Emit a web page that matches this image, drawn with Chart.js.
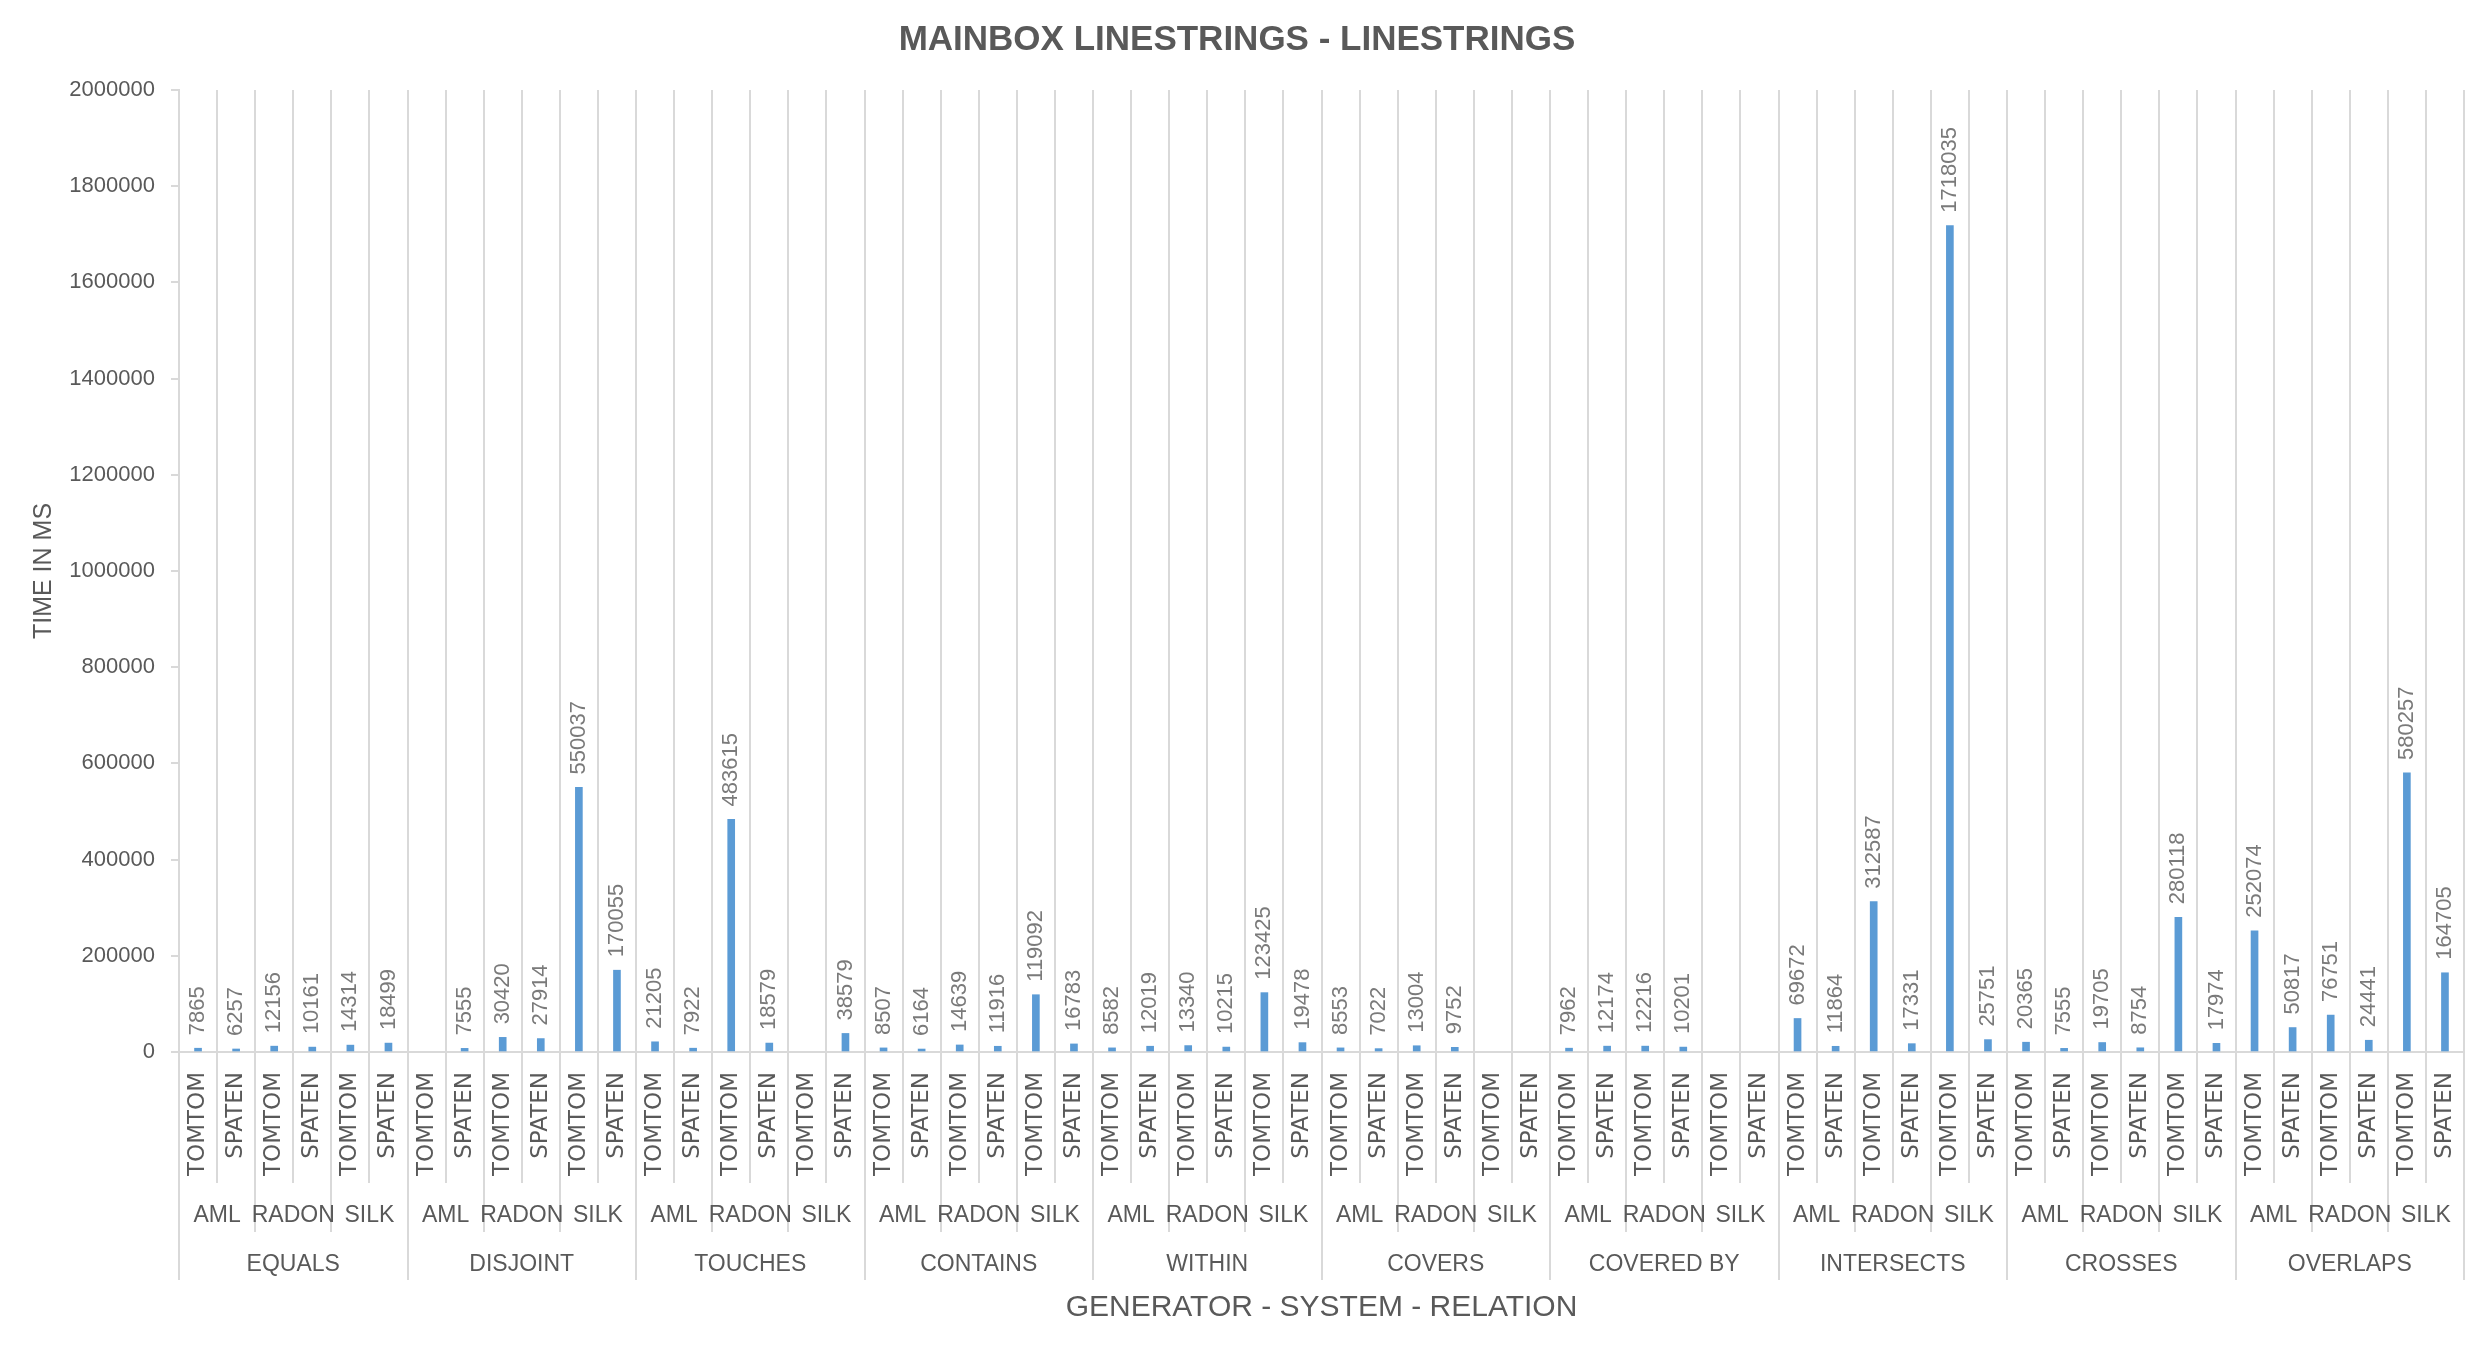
<!DOCTYPE html>
<html>
<head>
<meta charset="utf-8">
<title>Mainbox linestrings</title>
<script src="https://cdn.jsdelivr.net/npm/chart.js@4.4.1/dist/chart.umd.min.js"></script>
<style>
  html, body { margin: 0; padding: 0; background: #fff; }
  #wrap { width: 2488px; height: 1355px; }
</style>
</head>
<body>
<div id="wrap"><canvas id="chart" width="2488" height="1355"></canvas></div>
<script>
// --- data (ms), order per relation: AML tomtom/spaten, RADON tomtom/spaten, SILK tomtom/spaten
const relations = ['EQUALS', 'DISJOINT', 'TOUCHES', 'CONTAINS', 'WITHIN', 'COVERS', 'COVERED BY', 'INTERSECTS', 'CROSSES', 'OVERLAPS'];
const systems = ['AML', 'RADON', 'SILK'];
const generators = ['TOMTOM', 'SPATEN'];

const equals     = [7865, 6257, 12156, 10161, 14314, 18499];
const disjoint   = [null, 7555, 30420, 27914, 550037, 170055];
const touches    = [21205, 7922, 483615, 18579, null, 38579];
const contains   = [8507, 6164, 14639, 11916, 119092, 16783];
const within     = [8582, 12019, 13340, 10215, 123425, 19478];
const covers     = [8553, 7022, 13004, 9752, null, null];
const coveredBy  = [7962, 12174, 12216, 10201, null, null];
const intersects = [69672, 11864, 312587, 17331, 1718035, 25751];
const crosses    = [20365, 7555, 19705, 8754, 280118, 17974];
const overlaps   = [252074, 50817, 76751, 24441, 580257, 164705];

const yTicks = [0, 200000, 400000, 600000, 800000, 1000000, 1200000, 1400000, 1600000, 1800000, 2000000];

// colours
const BAR_COLOR = '#5B9BD5';
const GRID_COLOR = '#D9D9D9';
const TEXT_COLOR = '#595959';
const VALUE_COLOR = '#7A7A7A';
const SANS = '"Liberation Sans", Arial, sans-serif';

// build the three label levels
const times = [equals, disjoint, touches, contains, within, covers, coveredBy, intersects, crosses, overlaps].flat();
const genLabels = [];
const sysLabels = [];
relations.forEach(() => {
    systems.forEach(s => {
        sysLabels.push(s);
        generators.forEach(g => genLabels.push(g));
    });
});

// values written above the bars, rotated
const barValues = {
    id: 'barValues',
    afterDatasetsDraw(chart) {
        const ctx = chart.ctx;
        const meta = chart.getDatasetMeta(0);
        const data = chart.data.datasets[0].data;
        ctx.save();
        ctx.font = '22px ' + SANS;
        ctx.fillStyle = VALUE_COLOR;
        ctx.textAlign = 'left';
        ctx.textBaseline = 'middle';
        meta.data.forEach((bar, i) => {
            if (data[i] == null) return;
            ctx.save();
            ctx.translate(bar.x, bar.y - 13);
            ctx.rotate(-Math.PI / 2);
            ctx.fillText(String(data[i]), 0, 0);
            ctx.restore();
        });
        ctx.restore();
    }
};

new Chart(document.getElementById('chart'), {
    type: 'bar',
    data: {
        labels: genLabels,
        datasets: [{
            data: times,
            backgroundColor: BAR_COLOR,
            barThickness: 7,
            xAxisID: 'x'
        }]
    },
    plugins: [barValues],
    options: {
        responsive: false,
        animation: false,
        devicePixelRatio: 1,
        layout: { padding: { left: 10, right: 24, top: 0, bottom: 0 } },
        plugins: {
            legend: { display: false },
            tooltip: { enabled: false },
            title: {
                display: true,
                text: 'MAINBOX LINESTRINGS - LINESTRINGS',
                color: TEXT_COLOR,
                font: { family: SANS, size: 35, weight: 'bold' },
                padding: { top: 19, bottom: 29 }
            }
        },
        scales: {
            y: {
                min: 0,
                max: 2000000,
                afterBuildTicks: s => { s.ticks = yTicks.map(v => ({ value: v })); },
                ticks: {
                    color: TEXT_COLOR,
                    font: { family: SANS, size: 22 },
                    padding: 16,
                    callback: v => String(v)
                },
                grid: { drawOnChartArea: false, tickLength: 8, color: GRID_COLOR, lineWidth: 2 },
                border: { color: GRID_COLOR, width: 2 },
                title: {
                    display: true,
                    text: 'TIME IN MS',
                    color: TEXT_COLOR,
                    font: { family: SANS, size: 25 },
                    padding: { top: 19, bottom: 0 }
                },
                afterFit: s => { s.width = 169; }
            },
            x: {
                weight: 0,
                grid: { offset: true, tickLength: 131, color: GRID_COLOR, lineWidth: 2 },
                border: { color: GRID_COLOR, width: 2 },
                ticks: {
                    autoSkip: false,
                    minRotation: 90,
                    maxRotation: 90,
                    padding: -111,
                    color: TEXT_COLOR,
                    font: { family: '"DejaVu Sans", sans-serif', size: 23 }
                },
                afterFit: s => { s.height = 131; }
            },
            x2: {
                type: 'category',
                position: 'bottom',
                weight: 1,
                labels: sysLabels,
                offset: true,
                grid: { offset: true, drawOnChartArea: false, tickLength: 49, color: GRID_COLOR, lineWidth: 2 },
                border: { display: false },
                ticks: {
                    autoSkip: false,
                    minRotation: 0,
                    maxRotation: 0,
                    padding: -30,
                    color: TEXT_COLOR,
                    font: { family: SANS, size: 23 }
                },
                afterFit: s => { s.height = 49; }
            },
            x3: {
                type: 'category',
                position: 'bottom',
                weight: 2,
                labels: relations,
                offset: true,
                grid: { offset: true, drawOnChartArea: false, tickLength: 48, color: GRID_COLOR, lineWidth: 2 },
                border: { display: false },
                ticks: {
                    autoSkip: false,
                    minRotation: 0,
                    maxRotation: 0,
                    padding: -29,
                    color: TEXT_COLOR,
                    font: { family: SANS, size: 23 }
                },
                title: {
                    display: true,
                    text: 'GENERATOR - SYSTEM - RELATION',
                    color: TEXT_COLOR,
                    font: { family: SANS, size: 30 },
                    padding: { top: 0, bottom: 29 }
                },
                afterFit: s => { s.height = 123; }
            }
        }
    }
});
</script>
</body>
</html>
